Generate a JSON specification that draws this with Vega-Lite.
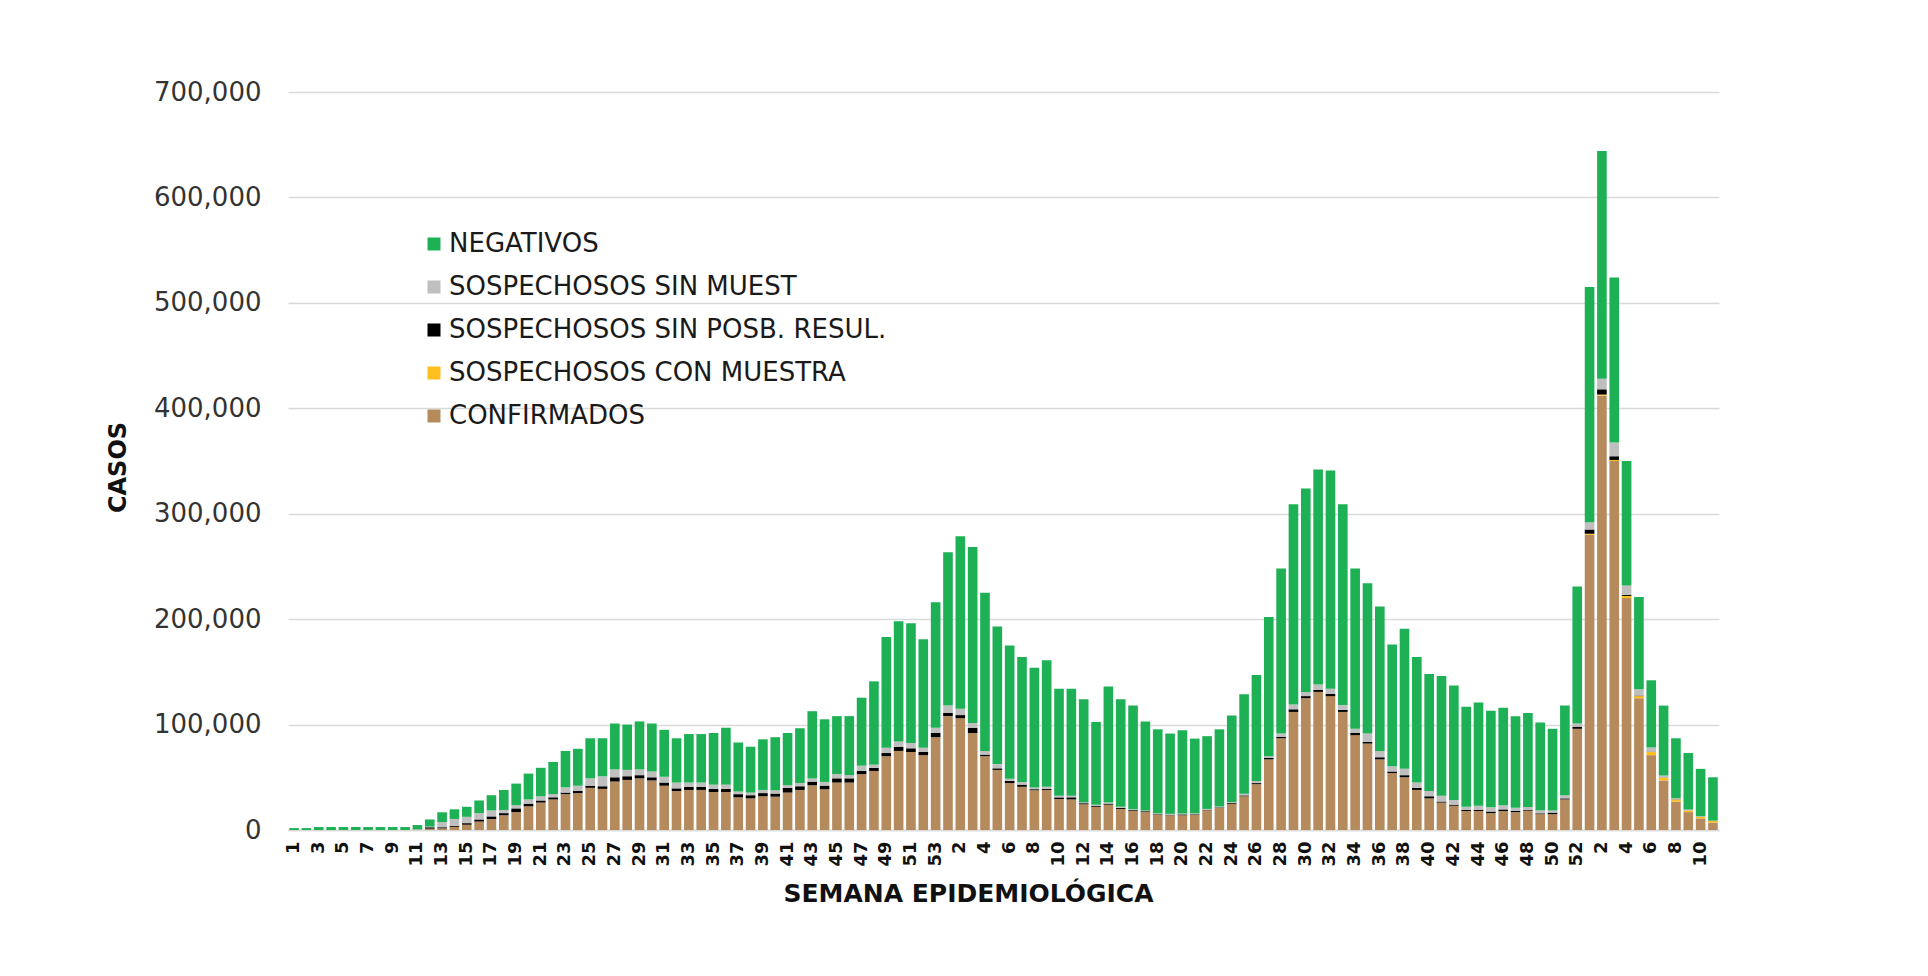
{
"$schema": "https://vega.github.io/schema/vega-lite/v6.json",
"width": 1431, "height": 738,
"autosize": {"type": "none"},
"padding": {"left": 288, "top": 92, "right": 209, "bottom": 146},
"background": "white",
"config": {"view": {"stroke": null}, "font": "DejaVu Sans"},
"data": {"values": [
{"k":"2020-1","a":0,"b":0,"c":0,"d":0,"e":1800},
{"k":"2020-2","a":0,"b":0,"c":0,"d":0,"e":1800},
{"k":"2020-3","a":0,"b":0,"c":0,"d":0,"e":2800},
{"k":"2020-4","a":0,"b":0,"c":0,"d":0,"e":2800},
{"k":"2020-5","a":0,"b":0,"c":0,"d":0,"e":2800},
{"k":"2020-6","a":0,"b":0,"c":0,"d":0,"e":2800},
{"k":"2020-7","a":0,"b":0,"c":0,"d":0,"e":2800},
{"k":"2020-8","a":0,"b":0,"c":0,"d":0,"e":2800},
{"k":"2020-9","a":0,"b":0,"c":0,"d":0,"e":2800},
{"k":"2020-10","a":0,"b":0,"c":0,"d":0,"e":2800},
{"k":"2020-11","a":300,"b":0,"c":0,"d":300,"e":4100},
{"k":"2020-12","a":1300,"b":0,"c":1300,"d":600,"e":6800},
{"k":"2020-13","a":1600,"b":0,"c":1000,"d":5000,"e":9200},
{"k":"2020-14","a":3000,"b":0,"c":1000,"d":6500,"e":9100},
{"k":"2020-15","a":5000,"b":0,"c":1500,"d":6000,"e":9500},
{"k":"2020-16","a":8000,"b":0,"c":2000,"d":6000,"e":12000},
{"k":"2020-17","a":10400,"b":0,"c":2500,"d":5700,"e":14400},
{"k":"2020-18","a":14000,"b":0,"c":2000,"d":3000,"e":19000},
{"k":"2020-19","a":17000,"b":0,"c":3500,"d":3000,"e":20500},
{"k":"2020-20","a":22500,"b":0,"c":2500,"d":4000,"e":24500},
{"k":"2020-21","a":26000,"b":0,"c":2000,"d":4000,"e":27000},
{"k":"2020-22","a":29000,"b":0,"c":2000,"d":3000,"e":30600},
{"k":"2020-23","a":34000,"b":0,"c":1500,"d":5000,"e":34500},
{"k":"2020-24","a":35000,"b":0,"c":2000,"d":5000,"e":35000},
{"k":"2020-25","a":40000,"b":0,"c":2000,"d":7000,"e":38000},
{"k":"2020-26","a":39000,"b":0,"c":2500,"d":9500,"e":36000},
{"k":"2020-27","a":46000,"b":0,"c":4000,"d":7500,"e":43500},
{"k":"2020-28","a":47500,"b":0,"c":3500,"d":6000,"e":43000},
{"k":"2020-29","a":49000,"b":0,"c":3000,"d":5500,"e":45500},
{"k":"2020-30","a":47000,"b":0,"c":3000,"d":5500,"e":45500},
{"k":"2020-31","a":42000,"b":0,"c":3000,"d":5500,"e":44500},
{"k":"2020-32","a":37000,"b":0,"c":2500,"d":5500,"e":42000},
{"k":"2020-33","a":38000,"b":0,"c":3000,"d":4000,"e":46000},
{"k":"2020-34","a":38000,"b":0,"c":3000,"d":4000,"e":46000},
{"k":"2020-35","a":36000,"b":0,"c":3000,"d":4000,"e":49000},
{"k":"2020-36","a":36000,"b":0,"c":3000,"d":4000,"e":54000},
{"k":"2020-37","a":31000,"b":0,"c":3000,"d":2500,"e":46500},
{"k":"2020-38","a":30000,"b":0,"c":3000,"d":2500,"e":43500},
{"k":"2020-39","a":32000,"b":0,"c":3000,"d":3000,"e":48000},
{"k":"2020-40","a":31600,"b":0,"c":3000,"d":3000,"e":50400},
{"k":"2020-41","a":35500,"b":0,"c":4500,"d":2500,"e":49500},
{"k":"2020-42","a":38000,"b":0,"c":3500,"d":3000,"e":52000},
{"k":"2020-43","a":42400,"b":0,"c":3500,"d":3000,"e":63800},
{"k":"2020-44","a":38600,"b":0,"c":3500,"d":3500,"e":59400},
{"k":"2020-45","a":45000,"b":0,"c":4000,"d":4000,"e":55000},
{"k":"2020-46","a":45000,"b":0,"c":4000,"d":3000,"e":56000},
{"k":"2020-47","a":53000,"b":0,"c":3000,"d":5000,"e":64500},
{"k":"2020-48","a":56000,"b":0,"c":3000,"d":3000,"e":79000},
{"k":"2020-49","a":70000,"b":0,"c":3000,"d":5000,"e":105000},
{"k":"2020-50","a":75000,"b":0,"c":4000,"d":5000,"e":114000},
{"k":"2020-51","a":74000,"b":0,"c":3500,"d":5000,"e":113500},
{"k":"2020-52","a":71000,"b":0,"c":3000,"d":4000,"e":103000},
{"k":"2020-53","a":88000,"b":0,"c":4000,"d":5000,"e":119000},
{"k":"2021-1","a":108000,"b":0,"c":3000,"d":7000,"e":145500},
{"k":"2021-2","a":106000,"b":0,"c":3000,"d":6000,"e":163700},
{"k":"2021-3","a":92000,"b":0,"c":5000,"d":4500,"e":167000},
{"k":"2021-4","a":70000,"b":0,"c":1500,"d":3500,"e":150000},
{"k":"2021-5","a":57000,"b":0,"c":1500,"d":4000,"e":130500},
{"k":"2021-6","a":44600,"b":0,"c":2000,"d":2000,"e":126400},
{"k":"2021-7","a":41000,"b":0,"c":2000,"d":2500,"e":118500},
{"k":"2021-8","a":37700,"b":0,"c":1000,"d":1500,"e":113800},
{"k":"2021-9","a":38000,"b":0,"c":1000,"d":2000,"e":120000},
{"k":"2021-10","a":29400,"b":0,"c":1500,"d":1500,"e":101600},
{"k":"2021-11","a":29000,"b":0,"c":2000,"d":1500,"e":101500},
{"k":"2021-12","a":24400,"b":0,"c":1000,"d":1000,"e":97600},
{"k":"2021-13","a":22000,"b":0,"c":1000,"d":1000,"e":78500},
{"k":"2021-14","a":24000,"b":0,"c":1000,"d":1000,"e":110000},
{"k":"2021-15","a":20000,"b":0,"c":1000,"d":1000,"e":102000},
{"k":"2021-16","a":18000,"b":0,"c":800,"d":800,"e":98400},
{"k":"2021-17","a":17000,"b":0,"c":800,"d":800,"e":84400},
{"k":"2021-18","a":14500,"b":0,"c":500,"d":800,"e":79700},
{"k":"2021-19","a":14000,"b":0,"c":500,"d":800,"e":76200},
{"k":"2021-20","a":14000,"b":0,"c":800,"d":800,"e":79000},
{"k":"2021-21","a":14500,"b":0,"c":500,"d":800,"e":70900},
{"k":"2021-22","a":18700,"b":0,"c":500,"d":800,"e":69000},
{"k":"2021-23","a":21000,"b":0,"c":500,"d":800,"e":73200},
{"k":"2021-24","a":24700,"b":0,"c":800,"d":1000,"e":82000},
{"k":"2021-25","a":32000,"b":0,"c":800,"d":1500,"e":94400},
{"k":"2021-26","a":43500,"b":0,"c":1000,"d":2000,"e":100500},
{"k":"2021-27","a":67000,"b":0,"c":1500,"d":1500,"e":132000},
{"k":"2021-28","a":87000,"b":0,"c":1500,"d":3000,"e":156500},
{"k":"2021-29","a":112000,"b":0,"c":2500,"d":4500,"e":190000},
{"k":"2021-30","a":125000,"b":0,"c":2000,"d":4000,"e":193000},
{"k":"2021-31","a":131000,"b":0,"c":2000,"d":5000,"e":204000},
{"k":"2021-32","a":127000,"b":0,"c":2000,"d":5000,"e":207000},
{"k":"2021-33","a":112000,"b":0,"c":2000,"d":4500,"e":190500},
{"k":"2021-34","a":90000,"b":0,"c":2000,"d":4000,"e":152000},
{"k":"2021-35","a":82000,"b":0,"c":1500,"d":8000,"e":142500},
{"k":"2021-36","a":67000,"b":0,"c":2000,"d":6000,"e":137000},
{"k":"2021-37","a":54000,"b":0,"c":1500,"d":5000,"e":115500},
{"k":"2021-38","a":50000,"b":0,"c":2000,"d":6000,"e":133000},
{"k":"2021-39","a":38000,"b":0,"c":2000,"d":5000,"e":119000},
{"k":"2021-40","a":30000,"b":0,"c":2000,"d":5000,"e":111000},
{"k":"2021-41","a":26000,"b":0,"c":1000,"d":5500,"e":113500},
{"k":"2021-42","a":23000,"b":0,"c":1000,"d":4500,"e":108500},
{"k":"2021-43","a":18000,"b":0,"c":1000,"d":3000,"e":95000},
{"k":"2021-44","a":18000,"b":0,"c":1000,"d":4000,"e":98000},
{"k":"2021-45","a":16000,"b":0,"c":1500,"d":4000,"e":91500},
{"k":"2021-46","a":18000,"b":0,"c":1500,"d":4000,"e":92500},
{"k":"2021-47","a":17000,"b":0,"c":1000,"d":3000,"e":87000},
{"k":"2021-48","a":18000,"b":0,"c":800,"d":3000,"e":89200},
{"k":"2021-49","a":15000,"b":0,"c":800,"d":3000,"e":83200},
{"k":"2021-50","a":15000,"b":0,"c":1500,"d":2000,"e":77500},
{"k":"2021-51","a":29000,"b":0,"c":1000,"d":3000,"e":85000},
{"k":"2021-52","a":96000,"b":0,"c":2000,"d":3000,"e":130000},
{"k":"2022-1","a":280000,"b":1000,"c":4000,"d":7000,"e":223000},
{"k":"2022-2","a":412000,"b":1000,"c":5000,"d":10000,"e":216000},
{"k":"2022-3","a":350000,"b":1000,"c":3500,"d":13000,"e":156500},
{"k":"2022-4","a":220000,"b":2000,"c":1000,"d":9000,"e":118000},
{"k":"2022-5","a":125000,"b":2000,"c":500,"d":6000,"e":87500},
{"k":"2022-6","a":71000,"b":3000,"c":300,"d":4000,"e":63700},
{"k":"2022-7","a":47000,"b":2500,"c":200,"d":2000,"e":66300},
{"k":"2022-8","a":27000,"b":2000,"c":200,"d":1000,"e":56800},
{"k":"2022-9","a":17000,"b":1500,"c":100,"d":800,"e":53600},
{"k":"2022-10","a":11000,"b":1500,"c":100,"d":500,"e":44900},
{"k":"2022-11","a":7000,"b":1500,"c":100,"d":300,"e":41100}
]},
"transform": [{"fold": ["a","b","c","d","e"], "as": ["s","v"]}],
"mark": {"type": "bar"},
"encoding": {
"x": {"field": "k", "type": "ordinal", "sort": null,
 "scale": {"paddingInner": 0.22, "paddingOuter": 0.1},
 "axis": {
  "values": ["2020-1","2020-3","2020-5","2020-7","2020-9","2020-11","2020-13","2020-15","2020-17","2020-19","2020-21","2020-23","2020-25","2020-27","2020-29","2020-31","2020-33","2020-35","2020-37","2020-39","2020-41","2020-43","2020-45","2020-47","2020-49","2020-51","2020-53","2021-2","2021-4","2021-6","2021-8","2021-10","2021-12","2021-14","2021-16","2021-18","2021-20","2021-22","2021-24","2021-26","2021-28","2021-30","2021-32","2021-34","2021-36","2021-38","2021-40","2021-42","2021-44","2021-46","2021-48","2021-50","2021-52","2022-2","2022-4","2022-6","2022-8","2022-10"],
  "labelExpr": "substring(datum.value, 5)",
  "labelAngle": -90, "labelFont": "DejaVu Sans", "labelFontSize": 18, "labelFontWeight": "bold", "labelColor": "#111111",
  "labelPadding": 11, "ticks": false, "tickSize": 0, "domain": true, "domainColor": "#d9d9d9", "domainWidth": 1.5, "labelOverlap": false,
  "title": "SEMANA EPIDEMIOLÓGICA", "titleFontSize": 25, "titleFontWeight": "bold", "titleColor": "#111111",
  "titleX": 680, "titleY": 63, "titleBaseline": "middle", "titleAlign": "center"
 }},
"y": {"field": "v", "type": "quantitative", "stack": "zero",
 "scale": {"domain": [0, 700000]},
 "axis": {
  "values": [0,100000,200000,300000,400000,500000,600000,700000], "format": ",.0f",
  "labelFontSize": 26, "labelColor": "#333333", "labelPadding": 27,
  "ticks": false, "domain": false, "grid": true, "gridColor": "#d9d9d9", "gridWidth": 1.5,
  "title": "CASOS", "titleFontSize": 24, "titleFontWeight": "bold", "titleColor": "#111111",
  "titleX": -170, "titleY": 375, "titleBaseline": "middle", "titleAlign": "center", "titleAngle": -90
 }},
"color": {"field": "s", "type": "nominal",
 "scale": {"domain": ["e","d","c","b","a"], "range": ["#1DB054","#BFBFBF","#000000","#FFBF1F","#B58B5E"]},
 "legend": {
  "orient": "none", "legendX": 133, "legendY": 139, "title": null,
  "labelExpr": "datum.label == 'e' ? 'NEGATIVOS' : datum.label == 'd' ? 'SOSPECHOSOS SIN MUEST' : datum.label == 'c' ? 'SOSPECHOSOS SIN POSB. RESUL.' : datum.label == 'b' ? 'SOSPECHOSOS CON MUESTRA' : 'CONFIRMADOS'",
  "symbolType": "square", "symbolSize": 169, "symbolStrokeWidth": 0,
  "labelFontSize": 26, "labelColor": "#1a1a1a", "labelOffset": 2, "rowPadding": 17, "labelLimit": 700
 }},
"order": {"field": "s", "sort": "ascending"}
}
}
